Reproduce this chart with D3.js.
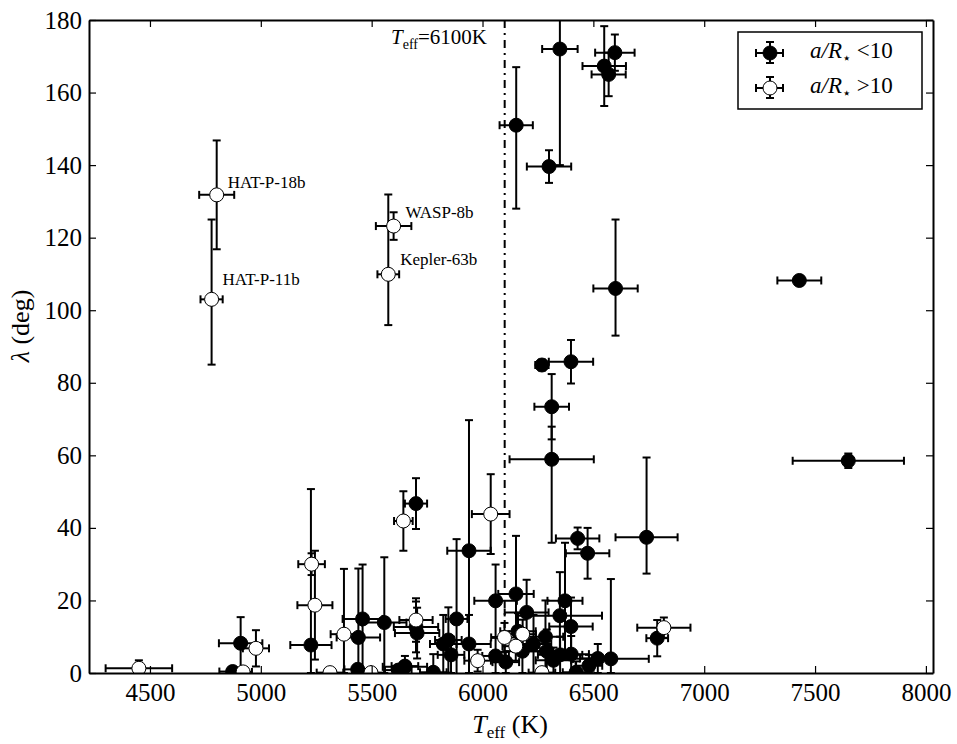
<!DOCTYPE html>
<meta charset="utf-8" />
<script src="https://d3js.org/d3.v7.min.js"></script>
<style>
  body { margin: 0; background: #fff; }
  svg text { font-family: "Liberation Serif", "DejaVu Serif", serif; }
</style>
<body>
  <div id="chart"></div>
  <script>
    // a/R* < 10 (filled markers)
    const closeTeff = [6349, 6300, 6152, 6549, 6597, 6569, 6600, 7429, 6399, 6268,
      6312, 6312, 7650, 6740, 6788, 6579, 5700, 5939, 6429, 6474,
      6059, 6151, 6199, 6372, 6349, 6399, 5883, 5700, 5705, 5846,
      5823, 5939, 5858, 5778, 5650, 4909, 4873, 5226, 5459, 5440,
      5557, 5437, 5620, 5650, 6059, 6105, 6160, 6180, 6230, 6284,
      6290, 6320, 6350, 6400, 6422, 6480, 6520];
    const closeTeffErr = [80, 100, 75, 98, 89, 77, 100, 99, 100, 30,
      78, 190, 251, 140, 49, 171, 50, 98, 98, 98,
      96, 80, 99, 79, 190, 98, 49, 100, 100, 60,
      60, 98, 60, 60, 100, 98, 60, 93, 90, 98,
      100, 60, 60, 60, 60, 60, 80, 80, 80, 80,
      100, 80, 100, 80, 60, 60, 80];
    const closeLam = [172, 139.6, 151, 167.3, 171, 165, 106, 108.2, 85.8, 84.9,
      73.4, 58.9, 58.5, 37.4, 9.6, 3.9, 46.7, 33.7, 37.1, 33,
      19.9, 21.8, 16.7, 19.9, 15.8, 12.8, 14.9, 12.7, 11, 9.1,
      8, 8, 5, 0.2, 1.7, 8.2, 0.4, 7.7, 14.9, 9.8,
      13.9, 1, 0.8, 1.9, 4.7, 3, 11.5, 6, 8, 10,
      6, 3.5, 5, 5.2, 0.2, 2, 4];
    const closeLamLo = [32, 4.5, 23, 11, 5, 6, 13, 1, 6, 1.5,
      9, 23, 2, 10, 5, 3.9, 7, 36, 3, 7,
      10, 16, 9, 16, 12, 8, 22, 7, 7, 9,
      8, 8, 5, 0.2, 1.7, 8.2, 0.4, 7.7, 14.9, 9.8,
      13.9, 1, 0.8, 1.9, 4.7, 3, 5, 6, 8, 10,
      6, 3.5, 5, 5.2, 0.2, 2, 4];
    const closeLamHi = [32, 4.5, 16, 11, 5, 6, 19, 1, 6, 1.5,
      9, 9, 2, 22, 5, 22, 7, 36, 3, 7,
      10, 16, 9, 16, 12, 8, 22, 7, 7, 9,
      8, 8, 5, 5, 3, 7.2, 1, 43, 15, 19,
      18, 1, 1, 1, 5, 3, 5, 6, 8, 10,
      6, 3.5, 5, 5, 3, 3, 4];

    // a/R* > 10 (open markers)
    const wideTeff = [4450, 4978, 5229, 5244, 5375, 5312, 5497, 5643, 5700, 6037,
      6099, 6181, 6150, 5978, 6268, 6818, 4801, 4778, 5599, 5575, 4920];
    const wideTeffErr = [150, 59, 60, 79, 60, 60, 60, 42, 75, 85,
      60, 60, 60, 60, 60, 120, 79, 50, 80, 49, 40];
    const wideLam = [1.3, 6.8, 30, 18.7, 10.7, 0.1, 0.1, 41.9, 14.6, 43.8,
      9.8, 10.7, 7.4, 3.4, 0.1, 12.5, 131.8, 103, 123.2, 109.9, 0.3];
    const wideLamLo = [1.3, 5, 3, 15, 10.7, 0.1, 0.1, 8.2, 6, 11,
      4, 4, 4, 3, 0.1, 2.8, 15, 18, 3.8, 14, 0.3];
    const wideLamHi = [2.2, 5, 3, 15, 18, 1, 1, 8.2, 6, 11,
      4, 4, 4, 3, 1, 2.8, 15, 22, 3.8, 22, 1];

    // labelled systems
    const labelNames = ["HAT-P-18b", "HAT-P-11b", "WASP-8b", "Kepler-63b"];
    const labelTeff = [4801, 4778, 5599, 5575];
    const labelLam = [131.8, 103, 123.2, 109.9];

    const xTicks = [4500, 5000, 5500, 6000, 6500, 7000, 7500, 8000];
    const yTicks = [0, 20, 40, 60, 80, 100, 120, 140, 160, 180];

    const W = 957, H = 744;
    const svg = d3.select("#chart").append("svg")
      .attr("width", W).attr("height", H);

    const x = d3.scaleLinear().domain([4225, 8032]).range([89, 933]);
    const y = d3.scaleLinear().domain([0, 180]).range([673, 20]);

    svg.append("clipPath").attr("id", "plotclip")
      .append("rect")
      .attr("x", 89).attr("y", 20).attr("width", 844).attr("height", 653);

    const plot = svg.append("g").attr("clip-path", "url(#plotclip)");

    // Teff = 6100 K divider
    plot.append("line")
      .attr("x1", x(6100)).attr("x2", x(6100))
      .attr("y1", y(180)).attr("y2", y(0))
      .attr("stroke", "#000").attr("stroke-width", 2)
      .attr("stroke-dasharray", "8,5,2,5");

    function rows(t, te, l, lo, hi) {
      return t.map((d, i) => ({ t: d, te: te[i], l: l[i], lo: lo[i], hi: hi[i] }));
    }

    function drawSeries(g, data, fill) {
      const cap = 4;
      const bars = g.append("g").attr("stroke", "#000").attr("stroke-width", 2);
      data.forEach(d => {
        const cx = x(d.t), cy = y(d.l);
        const x0 = x(d.t - d.te), x1 = x(d.t + d.te);
        const y0 = y(d.l - d.lo), y1 = y(d.l + d.hi);
        bars.append("line").attr("x1", x0).attr("x2", x1).attr("y1", cy).attr("y2", cy);
        bars.append("line").attr("x1", cx).attr("x2", cx).attr("y1", y0).attr("y2", y1);
        bars.append("line").attr("x1", x0).attr("x2", x0).attr("y1", cy - cap).attr("y2", cy + cap);
        bars.append("line").attr("x1", x1).attr("x2", x1).attr("y1", cy - cap).attr("y2", cy + cap);
        bars.append("line").attr("x1", cx - cap).attr("x2", cx + cap).attr("y1", y0).attr("y2", y0);
        bars.append("line").attr("x1", cx - cap).attr("x2", cx + cap).attr("y1", y1).attr("y2", y1);
      });
      g.append("g").selectAll("circle")
        .data(data)
        .join("circle")
        .attr("cx", d => x(d.t))
        .attr("cy", d => y(d.l))
        .attr("r", 7)
        .attr("fill", fill)
        .attr("stroke", "#000")
        .attr("stroke-width", 1);
    }

    drawSeries(plot.append("g"), rows(closeTeff, closeTeffErr, closeLam, closeLamLo, closeLamHi), "#000");
    drawSeries(plot.append("g"), rows(wideTeff, wideTeffErr, wideLam, wideLamLo, wideLamHi), "#fff");

    // names next to the misaligned open points
    const labelDx = [11, 11, 12, 12], labelDy = [-7, -14, -8, -9];
    svg.append("g").selectAll("text")
      .data(labelNames)
      .join("text")
      .attr("x", (d, i) => x(labelTeff[i]) + labelDx[i])
      .attr("y", (d, i) => y(labelLam[i]) + labelDy[i])
      .style("font-size", "17px")
      .text(d => d);

    // axes: ticks point inward on all four sides
    const axisStyle = g => {
      g.attr("font-family", null).attr("font-size", null);
      g.select(".domain").attr("stroke-width", 2);
      g.selectAll(".tick line").attr("stroke-width", 1.2);
      g.selectAll(".tick text")
        .style("font-family", "'Liberation Serif', serif")
        .style("font-size", "25px")
        .attr("fill", "#000");
    };
    svg.append("g").attr("transform", "translate(0,673)")
      .call(d3.axisBottom(x).tickValues(xTicks).tickSizeInner(-7).tickSizeOuter(0).tickPadding(10).tickFormat(d3.format("d")))
      .call(axisStyle);
    svg.append("g").attr("transform", "translate(0,20)")
      .call(d3.axisTop(x).tickValues(xTicks).tickSizeInner(-7).tickSizeOuter(0).tickFormat(""))
      .call(axisStyle);
    svg.append("g").attr("transform", "translate(89,0)")
      .call(d3.axisLeft(y).tickValues(yTicks).tickSizeInner(-7).tickSizeOuter(0).tickPadding(7))
      .call(axisStyle);
    svg.append("g").attr("transform", "translate(933,0)")
      .call(d3.axisRight(y).tickValues(yTicks).tickSizeInner(-7).tickSizeOuter(0).tickFormat(""))
      .call(axisStyle);

    // axis titles
    const xt = svg.append("text").attr("x", 510).attr("y", 733)
      .attr("text-anchor", "middle").style("font-size", "26px");
    xt.append("tspan").attr("font-style", "italic").text("T");
    xt.append("tspan").style("font-size", "17px").attr("dy", 5).text("eff");
    xt.append("tspan").attr("dy", -5).text(" (K)");

    const yt = svg.append("text")
      .attr("transform", "translate(29,326) rotate(-90)")
      .attr("text-anchor", "middle").style("font-size", "26px");
    yt.append("tspan").attr("font-style", "italic").text("λ");
    yt.append("tspan").text(" (deg)");

    // 6100 K annotation
    const ann = svg.append("text").attr("x", 391).attr("y", 44).style("font-size", "21px");
    ann.append("tspan").attr("font-style", "italic").text("T");
    ann.append("tspan").style("font-size", "14px").attr("dy", 5).text("eff");
    ann.append("tspan").attr("dy", -5).text("=6100K");

    // legend
    const leg = svg.append("g");
    leg.append("rect").attr("x", 738).attr("y", 32).attr("width", 184).attr("height", 77)
      .attr("fill", "#fff").attr("stroke", "#000").attr("stroke-width", 1.5);
    const legFill = ["#000", "#fff"], legY = [53, 88], legSign = ["<10", ">10"];
    legFill.forEach((f, i) => {
      const cy = legY[i], cx = 770;
      const lg = leg.append("g").attr("stroke", "#000").attr("stroke-width", 2);
      lg.append("line").attr("x1", cx - 14).attr("x2", cx + 13).attr("y1", cy).attr("y2", cy);
      lg.append("line").attr("x1", cx).attr("x2", cx).attr("y1", cy - 11).attr("y2", cy + 10);
      lg.append("line").attr("x1", cx - 14).attr("x2", cx - 14).attr("y1", cy - 4).attr("y2", cy + 4);
      lg.append("line").attr("x1", cx + 13).attr("x2", cx + 13).attr("y1", cy - 4).attr("y2", cy + 4);
      lg.append("line").attr("x1", cx - 4).attr("x2", cx + 4).attr("y1", cy - 11).attr("y2", cy - 11);
      lg.append("line").attr("x1", cx - 4).attr("x2", cx + 4).attr("y1", cy + 10).attr("y2", cy + 10);
      leg.append("circle").attr("cx", cx).attr("cy", cy).attr("r", 7)
        .attr("fill", f).attr("stroke", "#000").attr("stroke-width", 1);
      const t = leg.append("text").attr("x", 810).attr("y", cy + 5).style("font-size", "23px");
      t.append("tspan").attr("font-style", "italic").text("a/R");
      t.append("tspan").style("font-size", "15px").attr("dy", 5).text("⋆");
      t.append("tspan").attr("dy", -5).text(" " + legSign[i]);
    });
  </script>
</body>
